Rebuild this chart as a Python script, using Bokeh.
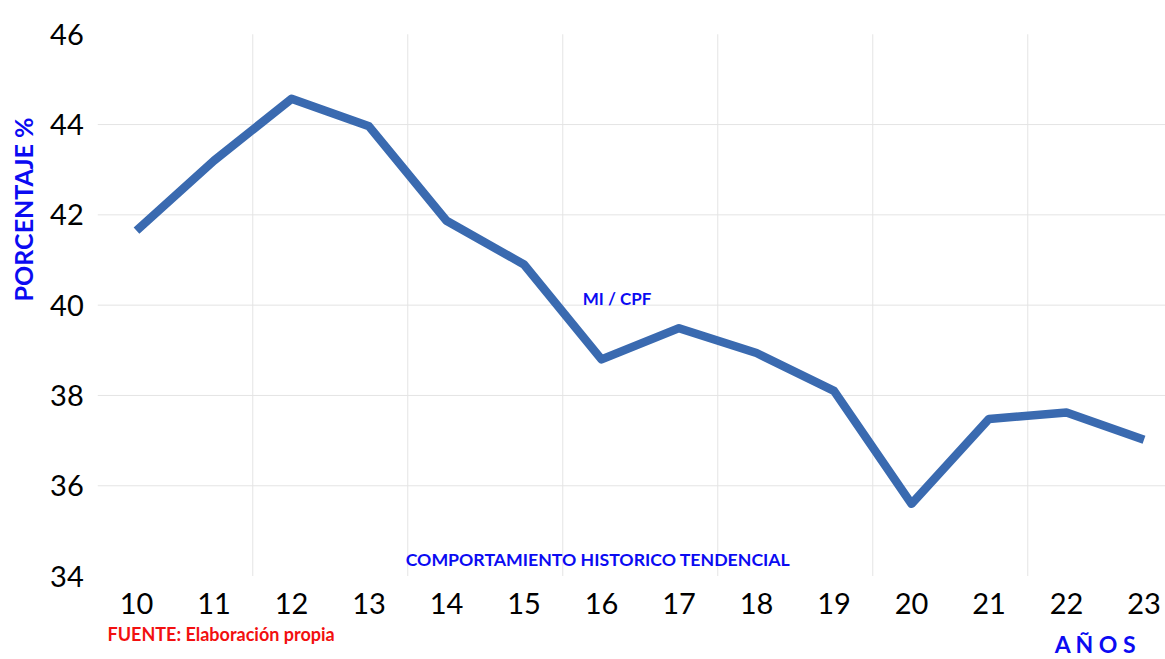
import math
from bokeh.plotting import figure
from bokeh.models import Range1d, FixedTicker, Label
from bokeh.embed import file_html
from bokeh.resources import INLINE

# ---- data ----
years = [10, 11, 12, 13, 14, 15, 16, 17, 18, 19, 20, 21, 22, 23]
porcentaje = [41.65, 43.2, 44.57, 43.96, 41.87, 40.9, 38.8, 39.49, 38.94, 38.1, 35.6, 37.48, 37.62, 37.02]
y_ticks = [34, 36, 38, 40, 42, 44, 46]
y_grid = [36, 38, 40, 42, 44]

W, H = 1165, 659
PX_X, PX_Y = 77.5, 45.15          # pixels per unit
X0, Y_TOP = 97.25, 33.75           # screen position of the plot-area edge / value 46
FONT = "Lato"
BLUE = "#0B0BF2"
RED = "#F21010"
LINE = "#3A6AB0"
GRID = "#E4E4E4"

x_lo = years[0] - 0.5
y_lo, y_hi = y_ticks[0], y_ticks[-1]
x_start = x_lo - X0 / PX_X
y_end = y_hi + Y_TOP / PX_Y

p = figure(width=W, height=H, output_backend="svg", toolbar_location=None,
           x_range=Range1d(x_start, x_start + W / PX_X),
           y_range=Range1d(y_end - H / PX_Y, y_end),
           min_border_left=0, min_border_right=0, min_border_top=0, min_border_bottom=0)
p.outline_line_color = None
p.background_fill_color = "white"
p.border_fill_color = "white"
p.grid.visible = False

# axes drawn at the plot-area edges
p.xaxis.fixed_location = y_lo
p.yaxis.fixed_location = x_lo
p.xaxis.ticker = FixedTicker(ticks=years)
p.yaxis.ticker = FixedTicker(ticks=y_ticks)
for ax in (p.xaxis[0], p.yaxis[0]):
    ax.axis_line_color = None
    ax.major_tick_line_color = None
    ax.minor_tick_line_color = None
    ax.major_label_text_font = FONT
    ax.major_label_text_font_size = "29px"
    ax.major_label_text_color = "black"
p.xaxis.major_label_standoff = 11
p.yaxis.major_label_standoff = 8

# gridlines of the plot area
gx = [y + 1.5 for y in years[::2]]
p.segment(x0=gx, y0=[y_lo] * len(gx), x1=gx, y1=[y_hi] * len(gx), line_color=GRID, line_width=1)
p.segment(x0=[x_lo] * len(y_grid), y0=y_grid, x1=[years[-1] + 0.5] * len(y_grid), y1=y_grid,
          line_color=GRID, line_width=1)

p.line(years, porcentaje, line_width=8.5, line_color=LINE, line_join="round", line_cap="butt")

def lab(x, y, text, size, color, align="center", angle=0.0):
    p.add_layout(Label(x=x, y=y, text=text, text_font=FONT, text_font_style="bold",
                       text_font_size=size, text_color=color, text_align=align,
                       text_baseline="middle", angle=angle))

lab(8.5355, 42.12, "PORCENTAJE %", "25px", BLUE, angle=math.pi / 2)
lab(16.2, 40.155, "MI / CPF", "17px", BLUE)
lab(15.955, 34.376, "COMPORTAMIENTO HISTORICO TENDENCIAL", "17.7px", BLUE)
lab(9.626, 32.7265, "FUENTE: Elaboración propia", "18px", RED, align="left")
lab(22.374, 32.49, "A Ñ O S", "23px", BLUE)

open("out.html", "w").write(file_html(p, INLINE))
